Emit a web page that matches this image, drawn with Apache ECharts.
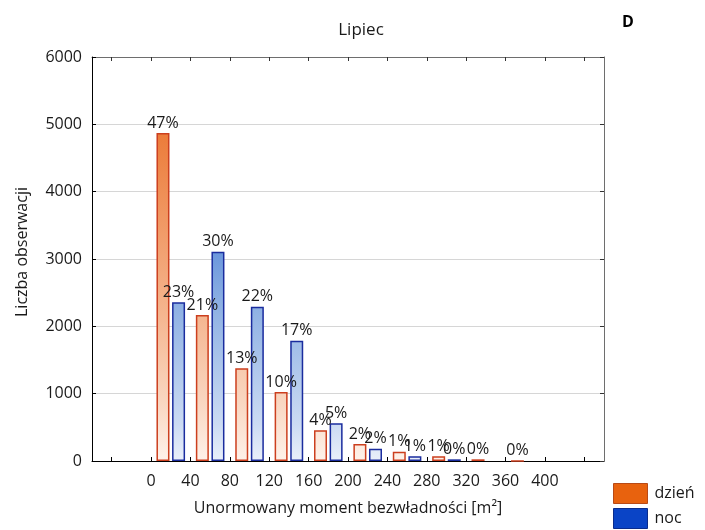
<!DOCTYPE html>
<html>
<head>
<meta charset="utf-8">
<script src="https://cdn.jsdelivr.net/npm/echarts@6/dist/echarts.min.js"></script>
<style>
  html, body { margin: 0; padding: 0; background: #fff; }
  #chart { width: 705px; height: 530px; }
</style>
</head>
<body>
<div id="chart"></div>
<script>
// Histogram bins: lower edge of each 40 m² class
var binEdges = [0, 40, 80, 120, 160, 200, 240, 280, 320, 360];
var binWidth = 40;
// Observation counts per bin
var dayCounts = [4871, 2168, 1376, 1025, 455, 252, 138, 70, 25, 2];
var nightCounts = [2357, 3109, 2292, 1787, 560, 183, 70, 25];
// Tick positions along the horizontal axis (outer ones carry no label)
var tickValues = [-40, 0, 40, 80, 120, 160, 200, 240, 280, 320, 360, 400, 440];
var tickLabels = ['', '0', '40', '80', '120', '160', '200', '240', '280', '320', '360', '400', ''];
var yTicks = [0, 1000, 2000, 3000, 4000, 5000, 6000];

var FONT = '"Open Sans", sans-serif';

function sum(arr) { return arr.reduce(function (a, b) { return a + b; }, 0); }

function toPoints(counts) {
  return counts.map(function (v, i) { return [binEdges[i] + binWidth / 2, v]; });
}

function pctLabel(total) {
  return function (p) { return Math.round(p.value[1] / total * 100) + '%'; };
}

// Vertical gradients anchored to the plot area (top = 6000, bottom = 0)
function plotGradient(stops) {
  return {
    type: 'linear', x: 0, y: 57, x2: 0, y2: 461, global: true,
    colorStops: stops
  };
}

var dayFill = plotGradient([
  { offset: 0, color: '#E4621A' },
  { offset: 0.19, color: '#EC7C3A' },
  { offset: 0.64, color: '#F5B690' },
  { offset: 0.85, color: '#F9D6C0' },
  { offset: 1, color: '#FEF2EA' }
]);
var nightFill = plotGradient([
  { offset: 0, color: '#2C60C6' },
  { offset: 0.48, color: '#6A96DC' },
  { offset: 0.6, color: '#8AAEE2' },
  { offset: 0.91, color: '#CCDBF3' },
  { offset: 1, color: '#EAF0FA' }
]);

var dayTotal = sum(dayCounts);
var nightTotal = sum(nightCounts);

var chart = echarts.init(document.getElementById('chart'), null, { renderer: 'canvas' });

var labelStyle = {
  show: true, position: 'top', distance: 2,
  fontFamily: FONT, fontSize: 16, color: '#1a1a1a'
};

chart.setOption({
  animation: false,
  backgroundColor: '#fff',
  textStyle: { fontFamily: FONT },
  title: [
    { text: 'Lipiec', left: 356, top: 17, textAlign: 'center',
      textStyle: { fontFamily: FONT, fontSize: 17, fontWeight: 'normal', color: '#1a1a1a' } },
    { text: 'D', left: 617, top: 9,
      textStyle: { fontFamily: FONT, fontSize: 16, fontWeight: 'bold', color: '#000' } }
  ],
  legend: {
    orient: 'vertical', left: 613, top: 483, padding: 0,
    itemWidth: 34, itemHeight: 20, itemGap: 4,
    icon: 'rect',
    textStyle: { fontFamily: FONT, fontSize: 16, color: '#1a1a1a', padding: [0, 0, 0, 2] },
    data: [
      { name: 'dzień', itemStyle: { color: '#E8620E', borderColor: '#B84A16', borderWidth: 1 } },
      { name: 'noc', itemStyle: { color: '#0A44C6', borderColor: '#0A2C8C', borderWidth: 1 } }
    ]
  },
  grid: { left: 92, right: 101, top: 57, bottom: 69, containLabel: false },
  xAxis: [
    {
      type: 'category', position: 'bottom', data: tickLabels, boundaryGap: true,
      name: 'Unormowany moment bezwładności [m²]', nameLocation: 'middle', nameGap: 39,
      nameTextStyle: { fontFamily: FONT, fontSize: 16, color: '#1a1a1a' },
      axisLine: { onZero: false, lineStyle: { color: '#000', width: 1 } },
      axisTick: { show: true, inside: true, alignWithLabel: true, interval: 0, length: 4, lineStyle: { color: '#000' } },
      axisLabel: { interval: 0, margin: 12, fontFamily: FONT, fontSize: 16, color: '#1a1a1a' },
      splitLine: { show: false }
    },
    {
      type: 'category', position: 'top', data: tickLabels, boundaryGap: true,
      axisLine: { onZero: false, lineStyle: { color: '#6e6e6e', width: 1 } },
      axisTick: { show: true, inside: true, alignWithLabel: true, interval: 0, length: 4, lineStyle: { color: '#333' } },
      axisLabel: { show: false },
      splitLine: { show: false }
    },
    {
      type: 'value', position: 'bottom', min: tickValues[0] - 20, max: tickValues[tickValues.length - 1] + 20,
      show: false
    }
  ],
  yAxis: [
    {
      type: 'value', position: 'left', min: yTicks[0], max: yTicks[yTicks.length - 1], interval: 1000,
      name: 'Liczba obserwacji', nameLocation: 'middle', nameGap: 62,
      nameTextStyle: { fontFamily: FONT, fontSize: 16, color: '#1a1a1a', padding: [0, 0, 0, 14] },
      axisLine: { show: true, onZero: false, lineStyle: { color: '#000', width: 1 } },
      axisTick: { show: true, inside: true, length: 4, lineStyle: { color: '#000' } },
      axisLabel: { margin: 10, fontFamily: FONT, fontSize: 16, color: '#1a1a1a',
        formatter: function (v) { return String(v); } },
      splitLine: { show: true, lineStyle: { color: '#d6d6d6', width: 1 } }
    },
    {
      type: 'value', position: 'right', min: yTicks[0], max: yTicks[yTicks.length - 1], interval: 1000,
      axisLine: { show: true, onZero: false, lineStyle: { color: '#6e6e6e', width: 1 } },
      axisTick: { show: true, inside: true, length: 4, lineStyle: { color: '#333' } },
      axisLabel: { show: false },
      splitLine: { show: false }
    }
  ],
  series: [
    {
      name: 'dzień', type: 'bar', xAxisIndex: 2, yAxisIndex: 0,
      data: toPoints(dayCounts),
      barWidth: 13, barGap: '20%',
      itemStyle: { color: dayFill, borderColor: '#CC3F1E', borderWidth: 1.5 },
      label: Object.assign({ formatter: pctLabel(dayTotal) }, labelStyle)
    },
    {
      name: 'noc', type: 'bar', xAxisIndex: 2, yAxisIndex: 0,
      data: toPoints(nightCounts),
      barWidth: 13, barGap: '20%',
      itemStyle: { color: nightFill, borderColor: '#1A2C9E', borderWidth: 1.5 },
      label: Object.assign({ formatter: pctLabel(nightTotal) }, labelStyle)
    }
  ]
});
</script>
</body>
</html>
